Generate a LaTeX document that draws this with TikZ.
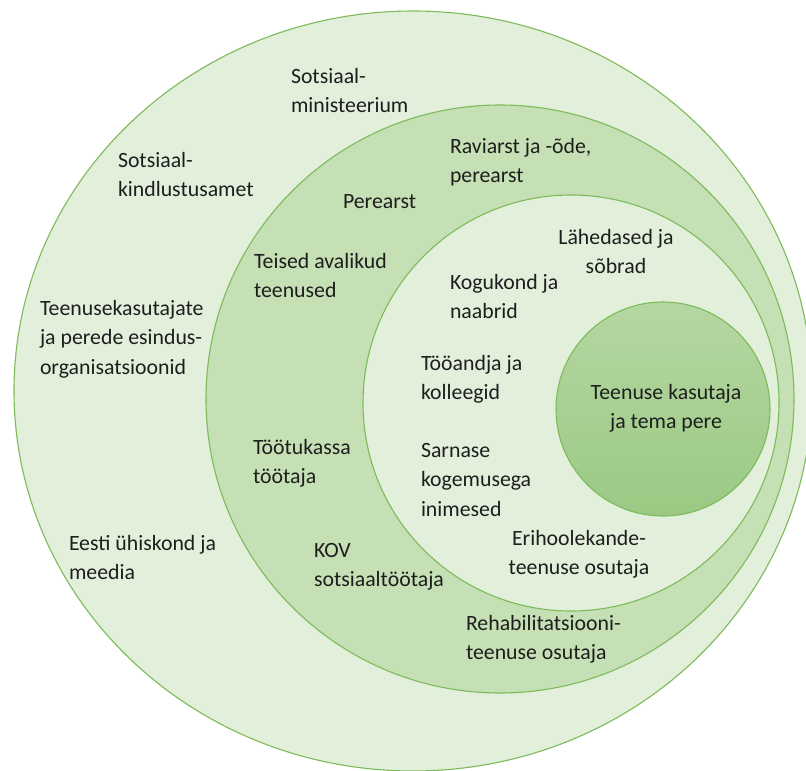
\documentclass[tikz,border=0pt]{standalone}
\usepackage{fontspec}
\setmainfont{Carlito}
\begin{document}
\begin{tikzpicture}[x=1pt,y=-1pt,
  ringline/.style={draw=ringgreen,line width=1.1pt},
  lbl/.style={inner sep=0pt,outer sep=0pt,align=left,anchor=north west,
    text=txtgray,font=\fontsize{21.8}{29.3}\selectfont},
  clbl/.style={lbl,align=center,anchor=north}]
\definecolor{ringgreen}{HTML}{7DBB5A}
\definecolor{palegreen}{HTML}{E2EFDA}
\definecolor{midgreen}{HTML}{C5E0B4}
\definecolor{coretop}{HTML}{B5D7A2}
\definecolor{corebot}{HTML}{9BC983}
\definecolor{txtgray}{HTML}{1E1E1E}
\useasboundingbox (0,0) rectangle (806,771);
\clip (0,0) rectangle (806,771);
\fill[white] (0,0) rectangle (806,771);
% nested circles, from the outside in
\filldraw[ringline,fill=palegreen] (413,391) ellipse [x radius=399pt,y radius=380pt];
\filldraw[ringline,fill=midgreen] (500,399) circle [radius=294pt];
\filldraw[ringline,fill=palegreen] (571,403) circle [radius=208pt];
\shade[top color=coretop,bottom color=corebot] (663,409) circle [radius=107pt];
\draw[ringline] (663,409) circle [radius=107pt];
% every label hangs from the top of its first line (a strut keeps the top fixed)
% outer ring
\node[lbl] (sm) at (291,63) {\strut Sotsiaal-\\ministeerium};
\node[lbl] (ska) at (118,147) {\strut Sotsiaal-\\kindlustusamet};
\node[lbl] (org) at (40,295) {\strut Teenusekasutajate\\ja perede esindus-\\organisatsioonid};
\node[lbl] (mee) at (69,530) {\strut Eesti ühiskond ja\\meedia};
% middle ring
\node[lbl] (rav) at (450,133) {\strut Raviarst ja -õde,\\perearst};
\node[lbl] (per) at (343,188) {\strut Perearst};
\node[lbl] (tav) at (254,248) {\strut Teised avalikud\\teenused};
\node[lbl] (ttk) at (253,434) {\strut Töötukassa\\töötaja};
\node[lbl] (kov) at (314,537) {\strut KOV\\sotsiaaltöötaja};
\node[lbl] (reh) at (466,610) {\strut Rehabilitatsiooni-\\teenuse osutaja};
% inner ring
\node[clbl] (lah) at (616,224) {\strut Lähedased ja\\sõbrad};
\node[lbl] (kog) at (450,269) {\strut Kogukond ja\\naabrid};
\node[lbl] (too) at (421,350) {\strut Tööandja ja\\kolleegid};
\node[lbl] (sar) at (421,437) {\strut Sarnase\\kogemusega\\inimesed};
\node[clbl] (eri) at (579,525) {\strut Erihoolekande-\\teenuse osutaja};
% core
\node[clbl] (core) at (666,379) {\strut Teenuse kasutaja\\ja tema pere};
\end{tikzpicture}
\end{document}
